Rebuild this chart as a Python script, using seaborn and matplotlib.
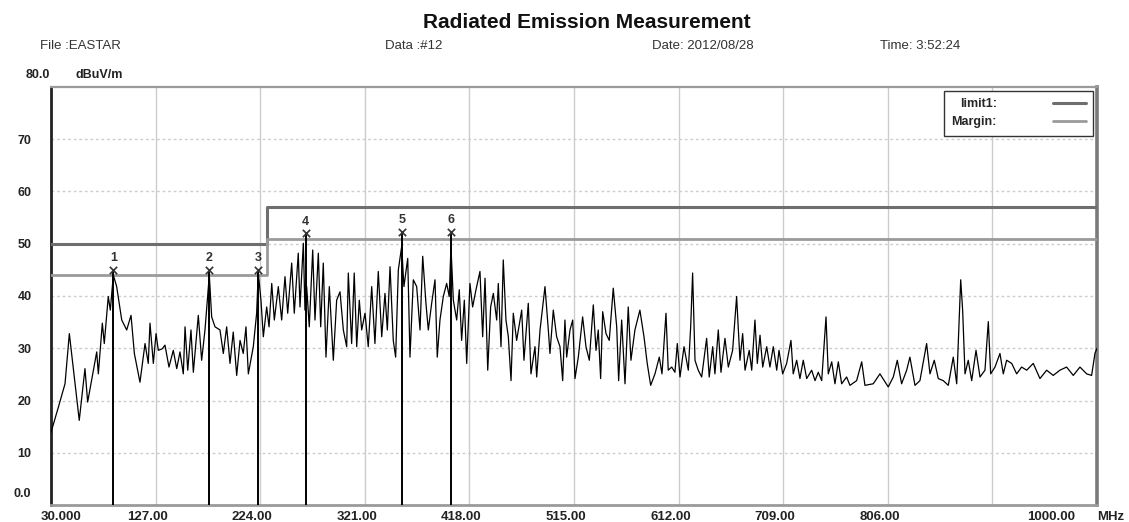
import numpy as np
import pandas as pd
import matplotlib
matplotlib.use("Agg")
import matplotlib.pyplot as plt
import matplotlib.transforms as mtransforms
import seaborn as sns

# trace (MHz, dBuV/m)
freq_mhz = [30.0, 36.8, 43.0, 47.0, 56.2, 61.5, 64.0, 72.4, 73.9, 77.6, 79.4, 83.1, 85.0, 87.8, 90.9,
            95.6, 100.2, 104.2, 107.3, 112.5, 117.2, 120.2, 121.8, 124.9, 127.4, 129.5, 133.2, 135.7,
            139.4, 143.4, 146.6, 149.6, 152.7, 154.3, 156.8, 159.8, 162.0, 166.6, 169.7, 172.8, 176.8,
            179.0, 182.1, 186.7, 189.8, 192.9, 196.0, 199.0, 202.2, 205.3, 208.3, 210.8, 213.0, 217.6,
            220.7, 222.2, 224.7, 226.9, 230.0, 232.2, 234.7, 237.1, 240.8, 243.9, 247.0, 249.5, 253.2,
            255.6, 259.3, 260.9, 264.0, 265.5, 267.1, 269.5, 272.7, 274.8, 277.9, 280.1, 282.5, 285.0,
            288.1, 291.8, 294.9, 298.0, 301.1, 304.2, 305.7, 308.8, 311.2, 313.5, 315.9, 318.1, 321.2,
            324.2, 327.4, 330.4, 333.5, 336.7, 339.7, 341.9, 344.4, 347.4, 349.6, 352.1, 355.2, 357.3,
            360.8, 362.9, 366.0, 369.1, 372.2, 374.7, 377.7, 379.9, 383.0, 386.1, 388.2, 390.7, 393.8,
            396.9, 399.3, 400.9, 403.1, 406.2, 408.6, 410.8, 413.3, 415.5, 418.5, 421.0, 424.1, 427.8,
            430.3, 432.5, 435.0, 437.7, 440.2, 443.3, 444.8, 447.3, 449.4, 451.9, 454.1, 456.6, 458.7,
            461.8, 466.5, 468.6, 472.6, 475.1, 478.8, 480.4, 483.5, 488.1, 491.2, 492.7, 495.8, 498.9,
            502.0, 504.5, 506.6, 508.2, 511.3, 513.8, 515.9, 519.0, 523.0, 526.1, 529.2, 532.9, 535.4,
            537.5, 539.7, 541.6, 544.7, 547.7, 551.4, 554.6, 556.4, 559.2, 562.3, 565.3, 567.8, 571.5,
            576.1, 579.9, 582.9, 586.1, 590.1, 594.1, 596.6, 600.3, 602.4, 605.6, 608.6, 610.8, 613.3,
            617.0, 621.0, 623.2, 625.0, 627.2, 630.2, 633.4, 638.0, 640.4, 643.6, 645.7, 648.8, 651.3,
            655.0, 658.1, 662.1, 665.8, 668.9, 671.4, 673.6, 677.5, 679.8, 682.8, 685.0, 687.5, 690.0,
            693.7, 696.7, 699.8, 703.0, 705.1, 708.5, 712.2, 716.2, 718.3, 721.5, 724.5, 727.6, 730.8,
            735.4, 738.5, 741.5, 744.7, 748.7, 750.8, 754.0, 757.0, 760.1, 763.2, 767.8, 770.9, 777.1,
            781.8, 784.8, 792.5, 798.7, 806.4, 811.1, 814.8, 818.8, 823.5, 826.5, 831.2, 835.8, 842.0,
            845.1, 849.1, 852.8, 857.4, 862.1, 866.7, 869.9, 873.6, 875.4, 877.6, 880.6, 883.8, 887.8,
            891.5, 896.1, 899.2, 901.4, 905.4, 910.0, 913.1, 916.2, 920.9, 925.5, 930.1, 934.8, 940.9,
            947.1, 953.3, 959.4, 965.6, 971.8, 978.0, 984.2, 990.4, 995.0, 998.1, 1000.0]
level_dbuv = [13.9, 18.7, 23.2, 32.8, 16.2, 26.1, 19.7, 29.3, 25.1, 34.8, 30.9, 39.9, 37.3, 44.0, 41.8,
              35.4, 33.5, 36.3, 29.0, 23.5, 30.9, 27.1, 34.8, 27.1, 32.8, 29.6, 29.9, 30.6,
              26.4, 29.6, 26.1, 29.3, 25.1, 34.1, 25.8, 33.5, 25.4, 36.3, 27.7, 33.5, 44.0,
              36.0, 34.1, 33.5, 29.0, 34.1, 27.1, 33.1, 24.8, 31.5, 29.0, 34.1, 25.1, 30.3,
              36.7, 44.5, 39.2, 32.2, 37.9, 34.1, 42.4, 35.4, 41.8, 35.4, 43.7, 36.7, 46.3,
              36.7, 48.2, 37.9, 50.1, 37.3, 41.8, 34.1, 48.8, 35.4, 48.2, 34.1, 46.3, 28.3,
              41.8, 27.7, 39.2, 40.8, 33.5, 30.3, 44.4, 30.9, 44.4, 30.3, 39.2, 33.5, 36.7,
              30.3, 41.8, 30.9, 44.7, 32.2, 40.5, 33.5, 45.6, 31.5, 28.3, 45.0, 49.5, 41.8,
              47.2, 28.3, 43.1, 41.8, 33.5, 47.6, 38.6, 33.5, 38.6, 43.1, 28.3, 35.4, 39.9,
              42.4, 39.9, 49.5, 39.2, 35.4, 41.2, 31.5, 39.2, 27.1, 42.4, 37.9, 41.2, 44.7,
              32.2, 43.4, 25.8, 37.9, 40.5, 35.4, 42.4, 30.3, 46.9, 35.4, 32.2, 23.8, 36.7,
              31.5, 37.3, 27.7, 38.6, 25.1, 30.3, 24.5, 33.5, 41.8, 33.5, 29.0, 37.3, 32.2,
              30.3, 23.8, 35.4, 28.3, 33.5, 35.4, 24.2, 28.3, 36.0, 30.3, 27.7, 38.3, 29.6,
              33.5, 24.2, 37.0, 32.8, 31.5, 41.5, 34.1, 23.8, 35.4, 23.2, 37.9, 27.7, 33.5,
              37.3, 32.2, 27.1, 22.9, 25.1, 28.3, 25.1, 36.7, 25.8, 26.4, 25.4, 30.9, 24.5,
              30.3, 25.8, 34.1, 44.4, 27.7, 25.8, 24.5, 31.9, 24.5, 30.3, 25.1, 33.5, 25.4,
              31.9, 26.4, 29.6, 39.9, 27.7, 32.8, 25.8, 29.6, 25.8, 35.4, 27.1, 32.5, 26.4,
              30.3, 26.4, 30.3, 25.8, 29.6, 25.1, 27.1, 31.5, 25.1, 27.7, 24.2, 27.7, 24.2,
              25.8, 23.8, 25.4, 23.8, 36.0, 25.1, 27.4, 23.2, 27.4, 23.2, 24.5, 22.9, 23.8,
              27.4, 22.9, 23.2, 25.1, 22.6, 24.5, 27.7, 23.2, 25.8, 28.3, 22.9, 23.8, 30.9,
              25.1, 27.7, 24.2, 23.8, 22.9, 28.3, 23.2, 43.1, 37.3, 25.1, 27.7, 23.8, 29.6,
              24.5, 25.8, 35.1, 25.1, 26.4, 29.0, 25.1, 27.7, 27.1, 25.1, 26.4, 25.8, 27.1,
              24.2, 25.8, 24.8, 25.8, 26.4, 24.8, 26.4, 25.1, 24.8, 29.0, 30.0]

# limit line and margin (step at 230 MHz)
limit_freq = [30, 230, 230, 1000]
limit1 = [50, 50, 57, 57]
margin = [44, 44, 51, 51]

# marked peaks
mk_num = ["1", "2", "3", "4", "5", "6"]
mk_freq = [87.8, 176.8, 222.2, 266.2, 355.2, 400.9]
mk_level = [45.0, 45.0, 45.0, 52.0, 52.3, 52.3]

xticks = [30, 127, 224, 321, 418, 515, 612, 709, 806, 903, 1000]
xlabels = ["30.000", "127.00", "224.00", "321.00", "418.00", "515.00", "612.00",
           "709.00", "806.00", "", "1000.00"]
yticks = [10, 20, 30, 40, 50, 60, 70]

sns.set_style("white")
plt.rcParams['font.family'] = ['Liberation Sans', 'DejaVu Sans']

fig = plt.figure(figsize=(11.29, 5.22), dpi=100)
ax = fig.add_axes([51 / 1129, 1 - 505 / 522, 1046 / 1129, 418 / 522])

df = pd.DataFrame({'freq': freq_mhz, 'level': level_dbuv})
sns.lineplot(data=df, x='freq', y='level', ax=ax, color='black', lw=0.9,
             estimator=None, sort=False, zorder=4)

ax.plot(limit_freq, limit1, color='#6e6e6e', lw=2.2, label='limit1:', zorder=3)
ax.plot(limit_freq, margin, color='#9a9a9a', lw=2.0, label='Margin:', zorder=3)

ax.vlines(mk_freq, 0, mk_level, color='black', lw=1.4, zorder=5)
ax.scatter(mk_freq, mk_level, marker='x', s=28, color='#333333', linewidths=1.2, zorder=6)
for n, f, l in zip(mk_num, mk_freq, mk_level):
    ax.annotate(n, (f, l), xytext=(0, 4), textcoords='offset points', ha='center',
                va='bottom', fontsize=9, fontweight='bold', color='#333333')

ax.set_xlim(30, 1000)
ax.set_ylim(0, 80)
ax.set_xticks(xticks)
ax.set_yticks(yticks)
ax.set_xticklabels([])
ax.set_yticklabels([str(v) for v in yticks], fontsize=9, fontweight='bold', color='#222222')
ax.tick_params(length=0, pad=14)
ax.set_xlabel('')
ax.set_ylabel('')

ax.grid(axis='x', color='#cccccc', lw=1.0, ls='-')
ax.grid(axis='y', color='#cdcdcd', lw=1.0, ls=(0, (2, 2)))

for side, c, w in [('left', '#222222', 2.0), ('bottom', '#9a9a9a', 2.0),
                   ('right', '#7a7a7a', 2.6), ('top', '#9a9a9a', 1.6)]:
    ax.spines[side].set_visible(True)
    ax.spines[side].set_color(c)
    ax.spines[side].set_linewidth(w)

# x labels sit a bit left of their grid lines
trans = mtransforms.blended_transform_factory(ax.transData, ax.transAxes)
shift = mtransforms.ScaledTranslation(-8 / 100, 0, fig.dpi_scale_trans)
for t, lab in zip(xticks, xlabels):
    if not lab:
        continue
    tr = trans + shift
    if t == 30:
        tr = trans + mtransforms.ScaledTranslation(10 / 100, 0, fig.dpi_scale_trans)
    if t == 1000:
        tr = trans + mtransforms.ScaledTranslation(-46 / 100, 0, fig.dpi_scale_trans)
    ax.text(t, -0.015, lab, transform=tr, ha='center', va='top', fontsize=9.5,
            fontweight='bold', color='#222222', clip_on=False)
ax.text(1.0, -0.015, 'MHz', transform=ax.transAxes, ha='left', va='top',
        fontsize=9.5, fontweight='bold', color='#222222', clip_on=False)

ax.text(-0.019, 0.027, '0.0', transform=ax.transAxes, ha='right', va='center',
        fontsize=9, fontweight='bold', color='#222222')
ax.text(-0.001, 1.015, '80.0', transform=ax.transAxes, ha='right', va='bottom',
        fontsize=9, fontweight='bold', color='#222222')
ax.text(0.023, 1.015, 'dBuV/m', transform=ax.transAxes, ha='left', va='bottom',
        fontsize=9, fontweight='bold', color='#222222')

leg = ax.legend(loc='upper right', markerfirst=False, frameon=True, fancybox=False,
                edgecolor='#333333', framealpha=1, borderaxespad=0.3, borderpad=0.6,
                handlelength=2.6, handletextpad=4.5, labelspacing=0.5,
                prop={'weight': 'bold', 'size': 9})
leg.get_frame().set_linewidth(1.0)

fig.text(587 / 1129, 1 - 22 / 522, 'Radiated Emission Measurement', ha='center', va='center',
         fontsize=15, fontweight='bold', color='#111111')
for x, s in [(40, 'File :EASTAR'), (385, 'Data :#12'), (652, 'Date: 2012/08/28'),
             (880, 'Time: 3:52:24')]:
    fig.text(x / 1129, 1 - 46 / 522, s, ha='left', va='center', fontsize=9.5, color='#333333')

fig.savefig('out.png', dpi=100, facecolor='white')
